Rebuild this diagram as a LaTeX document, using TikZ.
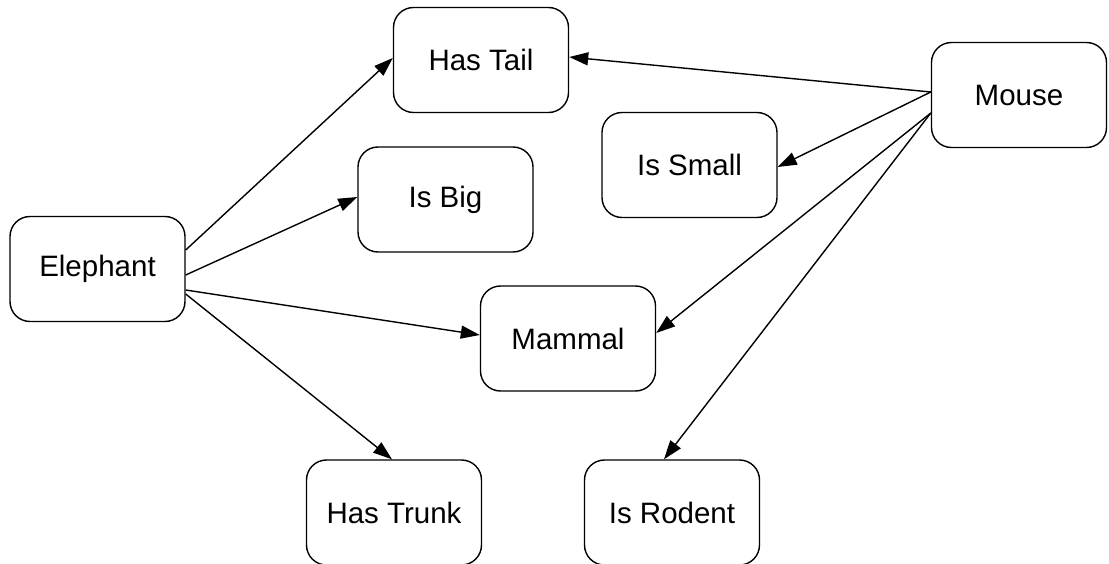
\documentclass[tikz,border=0pt]{standalone}
\usepackage{fontspec}
\setmainfont{Liberation Sans}
\usetikzlibrary{arrows.meta,calc}
\begin{document}
\begin{tikzpicture}[x=1pt,y=-1pt,
  box/.style={draw=black,line width=1.4pt,rounded corners=20pt,minimum width=175pt,minimum height=105pt,inner sep=0pt,fill=white,font=\fontsize{29.5}{35}\selectfont},
  edge/.style={draw=black,line width=1.4pt,-{Triangle[length=19pt,width=13pt]}}]
\useasboundingbox (0,0) rectangle (1109,564);
\fill[white] (0,0) rectangle (1109,564);
\node[box] (hastail) at (481,60) {Has Tail};
\node[box] (mouse) at (1019,95) {Mouse};
\node[box] (issmall) at (689.5,165) {Is Small};
\node[box] (isbig) at (445.5,199.5) {Is Big};
\node[box] (elephant) at (97.5,269) {Elephant};
\node[box] (mammal) at (568,338.5) {Mammal};
\node[box] (hastrunk) at (394,512.5) {Has Trunk};
\node[box] (isrodent) at (672,512.5) {Is Rodent};
\draw[edge] ($(elephant.east)+(0,-19)$) -- ($(hastail.west)+(0,-2)$);
\draw[edge] ($(elephant.east)+(0,6)$) -- ($(isbig.west)+(0,-2.5)$);
\draw[edge] ($(elephant.east)+(0,21)$) -- ($(mammal.west)+(0,-3.5)$);
\draw[edge] ($(elephant.east)+(0,25)$) -- ($(hastrunk.north)+(-2,0)$);
\draw[edge] ($(mouse.west)+(0,-3)$) -- ($(hastail.east)+(0,-3)$);
\draw[edge] ($(mouse.west)+(0,-3)$) -- ($(issmall.east)+(0,2)$);
\draw[edge] ($(mouse.west)+(0,18)$) -- ($(mammal.east)+(0,-5.5)$);
\draw[edge] ($(mouse.west)+(0,18)$) -- ($(isrodent.north)+(-8,0)$);
\end{tikzpicture}
\end{document}
